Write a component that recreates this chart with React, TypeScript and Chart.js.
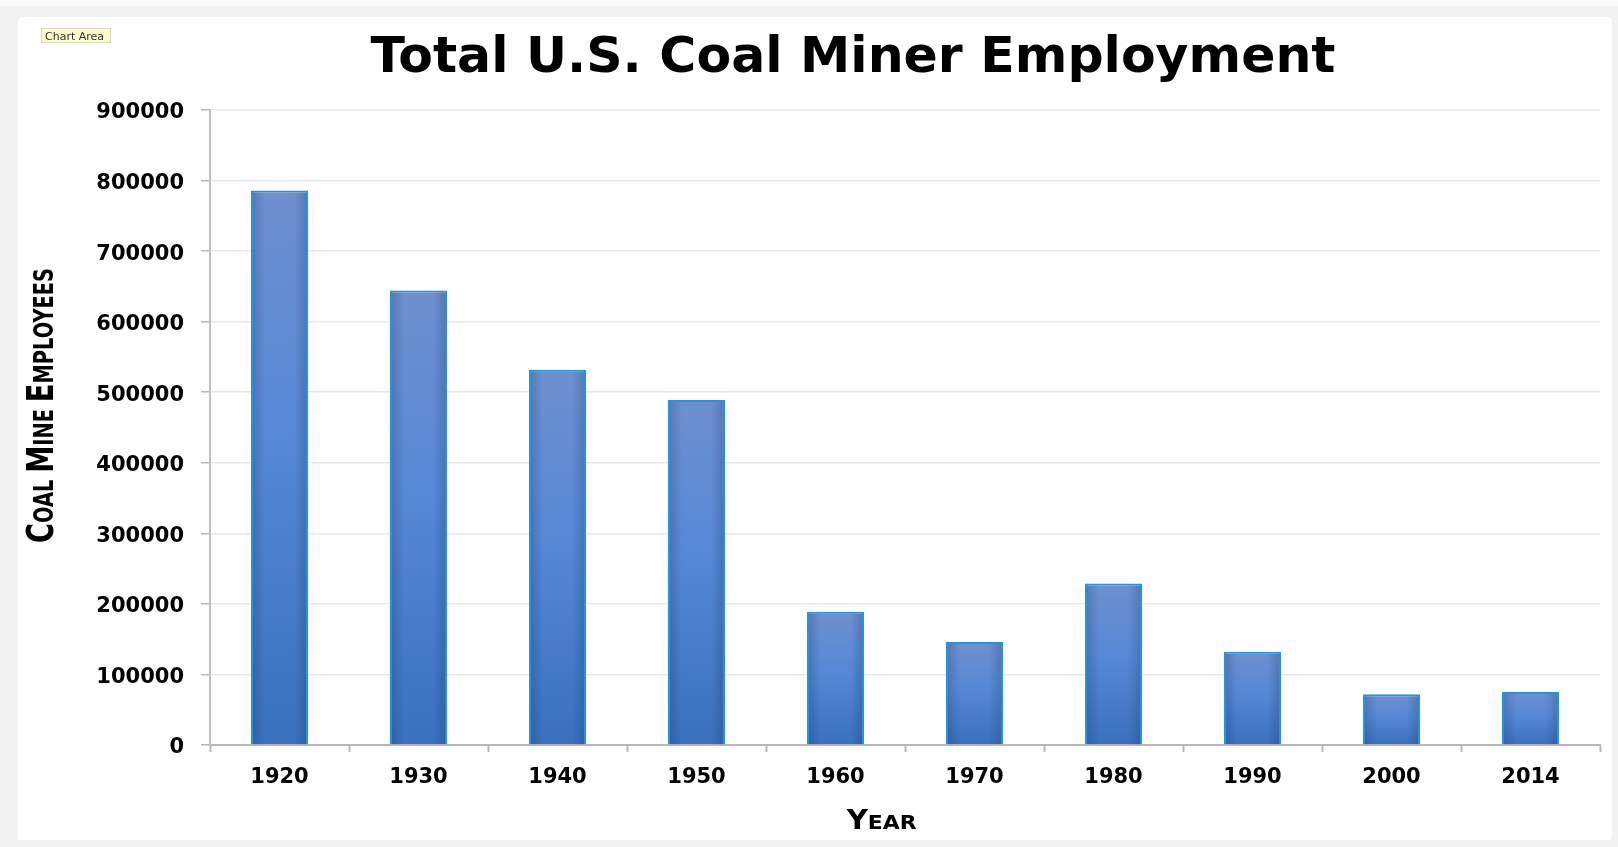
import React, { useEffect, useRef } from "react";
import { Chart, registerables } from "chart.js";

Chart.register(...registerables);

const years = ["1920", "1930", "1940", "1950", "1960", "1970", "1980", "1990", "2000", "2014"];
const employees = [786000, 644000, 532000, 489000, 189000, 146000, 229000, 132000, 72000, 75000];
const yMax = 900000;
const yStep = 100000;
const chartTitle = "Total U.S. Coal Miner Employment";
const xAxisTitle = "Year";
const yAxisTitle = "Coal Mine Employees";
const hoverLabel = "Chart Area";

const W = 1618;
const H = 847;

function drawSmallCaps(
  ctx: CanvasRenderingContext2D,
  text: string,
  cx: number,
  cy: number,
  angle: number,
  bigPx: number,
  smallPx: number,
  family: string,
  targetWidth: number
) {
  const runs: { t: string; size: number }[] = [];
  const words = text.split(" ");
  words.forEach((w, i) => {
    if (i > 0) runs.push({ t: " ", size: smallPx });
    runs.push({ t: w[0].toUpperCase(), size: bigPx });
    if (w.length > 1) runs.push({ t: w.slice(1).toUpperCase(), size: smallPx });
  });
  let total = 0;
  const widths: number[] = [];
  runs.forEach((r) => {
    ctx.font = `bold ${r.size}px ${family}`;
    const m = ctx.measureText(r.t).width;
    widths.push(m);
    total += m;
  });
  const s = targetWidth / total;
  ctx.save();
  ctx.translate(cx, cy);
  ctx.rotate(angle);
  ctx.scale(s, 1);
  ctx.fillStyle = "#000";
  ctx.textBaseline = "alphabetic";
  ctx.textAlign = "left";
  let x = -total / 2;
  runs.forEach((r, i) => {
    ctx.font = `bold ${r.size}px ${family}`;
    ctx.fillText(r.t, x, 0);
    x += widths[i];
  });
  ctx.restore();
}

const backgroundPlugin = {
  id: "pageBackground",
  beforeDraw(chart: any) {
    const ctx: CanvasRenderingContext2D = chart.ctx;
    ctx.save();
    ctx.fillStyle = "#f2f2f2";
    ctx.fillRect(0, 0, W, H);
    ctx.fillStyle = "#fafafa";
    ctx.fillRect(0, 0, W, 6);
    ctx.fillStyle = "#ffffff";
    ctx.beginPath();
    (ctx as any).roundRect(18, 17, 1594, 823, 4);
    ctx.fill();
    ctx.restore();
  },
};

const barShadePlugin = {
  id: "barShade",
  afterDatasetsDraw(chart: any) {
    const ctx: CanvasRenderingContext2D = chart.ctx;
    const meta = chart.getDatasetMeta(0);
    ctx.save();
    meta.data.forEach((el: any) => {
      const left = el.x - el.width / 2 + 2;
      const right = el.x + el.width / 2 - 2;
      const top = el.y + 2;
      const bottom = el.base;
      const g = ctx.createLinearGradient(left, 0, right, 0);
      g.addColorStop(0, "rgba(20,40,90,0.22)");
      g.addColorStop(0.22, "rgba(20,40,90,0)");
      g.addColorStop(0.78, "rgba(20,40,90,0)");
      g.addColorStop(1, "rgba(20,40,90,0.22)");
      ctx.fillStyle = g;
      ctx.fillRect(left, top, right - left, bottom - top);
    });
    ctx.restore();
  },
};

const textPlugin = {
  id: "texts",
  afterDraw(chart: any) {
    const ctx: CanvasRenderingContext2D = chart.ctx;
    ctx.save();
    ctx.fillStyle = "#000";
    ctx.font = 'bold 50.5px "DejaVu Sans"';
    ctx.textAlign = "center";
    ctx.textBaseline = "alphabetic";
    ctx.fillText(chartTitle, 853, 72);
    ctx.restore();

    drawSmallCaps(ctx, xAxisTitle, 881.7, 829, 0, 26, 19.5, '"DejaVu Sans"', 70);
    drawSmallCaps(ctx, yAxisTitle, 53, 405.5, -Math.PI / 2, 38, 27, '"DejaVu Sans"', 275);

    ctx.save();
    ctx.fillStyle = "#fcfcc6";
    ctx.fillRect(41, 28, 70, 15);
    ctx.strokeStyle = "#d9d9bd";
    ctx.lineWidth = 1;
    ctx.strokeRect(41.5, 28.5, 69, 14);
    ctx.fillStyle = "#333";
    ctx.font = '11px "DejaVu Sans"';
    ctx.textAlign = "left";
    ctx.textBaseline = "alphabetic";
    ctx.fillText(hoverLabel, 45, 39.5);
    ctx.restore();
  },
};

export default function App() {
  const ref = useRef<HTMLCanvasElement | null>(null);

  useEffect(() => {
    if (!ref.current) return;
    const tickFont = { family: '"DejaVu Sans"', weight: "bold" as const, size: 21 };
    const chart = new Chart(ref.current, {
      type: "bar",
      data: {
        labels: years,
        datasets: [
          {
            data: employees,
            backgroundColor: (c: any) => {
              const chart = c.chart;
              const { ctx, chartArea, scales } = chart;
              if (!chartArea || c.dataIndex === undefined || !scales.y) return "#5587d6";
              const top = scales.y.getPixelForValue(employees[c.dataIndex]);
              const bottom = scales.y.getPixelForValue(0);
              const g = ctx.createLinearGradient(0, top, 0, bottom);
              g.addColorStop(0, "#6e90cf");
              g.addColorStop(0.45, "#5688d6");
              g.addColorStop(1, "#3a70be");
              return g;
            },
            borderColor: "#2296da",
            borderWidth: 2,
            barPercentage: 0.41,
            categoryPercentage: 1,
          },
        ],
      },
      options: {
        responsive: false,
        animation: false,
        events: [],
        layout: { padding: { top: 110, right: 18, left: 0, bottom: 0 } },
        plugins: {
          legend: { display: false },
          title: { display: false },
          tooltip: { enabled: false },
        },
        scales: {
          x: {
            grid: {
              display: true,
              drawOnChartArea: false,
              drawTicks: true,
              tickLength: 7,
              tickColor: "#b8b8b8",
              tickWidth: 2,
              offset: true,
            },
            border: { display: true, color: "#b8b8b8", width: 2 },
            ticks: {
              color: "#000",
              font: tickFont,
              padding: 13,
              maxRotation: 0,
              autoSkip: false,
            },
            afterFit: (s: any) => {
              s.height = 102;
            },
          },
          y: {
            min: 0,
            max: yMax,
            ticks: {
              stepSize: yStep,
              color: "#000",
              font: tickFont,
              padding: 17,
              labelOffset: 3,
              callback: (v: any) => String(v),
            },
            grid: {
              color: "#e7e7f2",
              lineWidth: 1.5,
              tickLength: 9,
              tickColor: "#b8b8b8",
              tickWidth: 1.5,
            },
            border: { color: "#c0c0c0", width: 2 },
            afterFit: (s: any) => {
              s.width = 210;
            },
          },
        },
      },
      plugins: [backgroundPlugin, barShadePlugin, textPlugin],
    });
    return () => chart.destroy();
  }, []);

  return (
    <canvas
      ref={ref}
      width={W}
      height={H}
      style={{ position: "fixed", left: 0, top: 0, width: W, height: H, display: "block" }}
    />
  );
}
